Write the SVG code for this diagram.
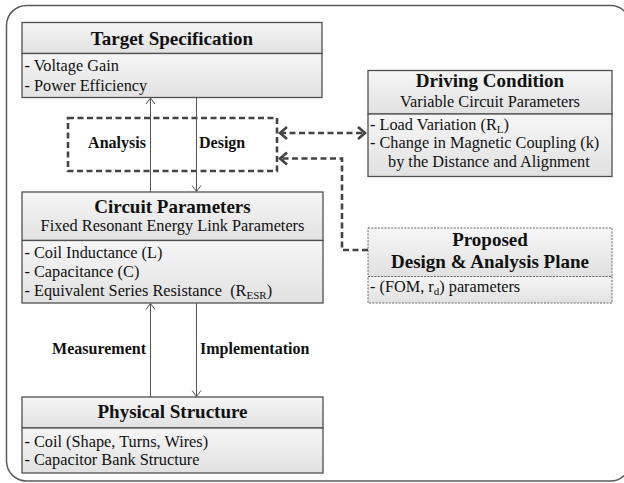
<svg xmlns="http://www.w3.org/2000/svg" width="624" height="483" viewBox="0 0 624 483">
  <defs>
    <linearGradient id="boxFill" x1="0" y1="0" x2="0" y2="1">
      <stop offset="0" stop-color="#f6f6f6"/>
      <stop offset="1" stop-color="#e1e1e1"/>
    </linearGradient>
    <marker id="thinHead" markerUnits="userSpaceOnUse" markerWidth="14" markerHeight="14" refX="0" refY="0" orient="auto" overflow="visible">
      <path d="M-6,-4.5 L0,0 L-6,4.5" fill="none" stroke="#555" stroke-width="1"/>
    </marker>
    <marker id="boldHead" markerUnits="userSpaceOnUse" markerWidth="16" markerHeight="16" refX="0" refY="0" orient="auto-start-reverse" overflow="visible">
      <path d="M-7,-6 L0,0 L-7,6" fill="none" stroke="#444" stroke-width="2.6" stroke-linejoin="miter"/>
    </marker>
  </defs>
  <style>
    .frame{fill:none;stroke:#5a5a5a;stroke-width:1.5}
    .box{fill:url(#boxFill);stroke:#505050;stroke-width:1.3}
    .dotbox{fill:url(#boxFill);stroke:#666;stroke-width:1;stroke-dasharray:2 1.3}
    text{font-family:"Liberation Serif","Times New Roman",serif;fill:#111}
    .title{font-weight:bold;font-size:19px;text-anchor:middle}
    .sub{font-size:16.3px;text-anchor:middle}
    .body{font-size:16.3px}
    .lbl{font-weight:bold;font-size:16px}
    .thin{stroke:#555;stroke-width:1;fill:none;marker-end:url(#thinHead)}
    .bold{stroke:#444;stroke-width:2.6;fill:none;stroke-dasharray:6 3.5}
  </style>

  <!-- outer frame -->
  <rect class="frame" x="6.5" y="5.5" width="624" height="475.5" rx="20" ry="20"/>

  <!-- Analysis / Design grouping box -->
  <g id="analysis-design">
    <rect class="bold" x="68" y="118" width="209" height="53"/>
    <text class="lbl" x="117" y="148" text-anchor="middle">Analysis</text>
    <text class="lbl" x="199" y="148">Design</text>
  </g>

  <g id="target-specification">
    <rect class="box" x="22" y="22.5" width="300" height="31"/>
    <rect class="box" x="22" y="53.5" width="300" height="44"/>
    <text class="title" x="172" y="44.5">Target Specification</text>
    <text class="body" x="24.5" y="71">- Voltage Gain</text>
    <text class="body" x="24.5" y="90.5">- Power Efficiency</text>
  </g>

  <g id="driving-condition">
    <rect class="box" x="368" y="70.5" width="244" height="43.5"/>
    <rect class="box" x="368" y="114" width="244" height="62.5"/>
    <text class="title" x="490" y="87">Driving Condition</text>
    <text class="sub" x="490" y="107">Variable Circuit Parameters</text>
    <text class="body" x="370" y="129.5">- Load Variation (R<tspan font-size="11" dy="3">L</tspan><tspan dy="-3">)</tspan></text>
    <text class="body" x="370" y="148">- Change in Magnetic Coupling (k)</text>
    <text class="body" x="388" y="166.5">by the Distance and Alignment</text>
  </g>

  <g id="circuit-parameters">
    <rect class="box" x="22" y="192" width="301" height="48.5"/>
    <rect class="box" x="22" y="240.5" width="301" height="62.5"/>
    <text class="title" x="172.5" y="213">Circuit Parameters</text>
    <text class="sub" x="172.5" y="231">Fixed Resonant Energy Link Parameters</text>
    <text class="body" x="24.5" y="257.5">- Coil Inductance (L)</text>
    <text class="body" x="24.5" y="276.5">- Capacitance (C)</text>
    <text class="body" x="24.5" y="296">- Equivalent Series Resistance <tspan dx="4">(R</tspan><tspan font-size="11" dy="3">ESR</tspan><tspan dy="-3">)</tspan></text>
  </g>

  <g id="proposed-plane">
    <rect class="dotbox" x="368" y="228" width="244" height="48.5"/>
    <rect class="dotbox" x="368" y="276.5" width="244" height="26.5"/>
    <text class="title" x="490" y="246">Proposed</text>
    <text class="title" x="490" y="268">Design &amp; Analysis Plane</text>
    <text class="body" x="370" y="292">- (FOM, r<tspan font-size="11" dy="3">d</tspan><tspan dy="-3">) parameters</tspan></text>
  </g>

  <g id="physical-structure">
    <rect class="box" x="22" y="397" width="301" height="31"/>
    <rect class="box" x="22" y="428" width="301" height="45"/>
    <text class="title" x="172.5" y="418">Physical Structure</text>
    <text class="body" x="24.5" y="446.5">- Coil (Shape, Turns, Wires)</text>
    <text class="body" x="24.5" y="465">- Capacitor Bank Structure</text>
  </g>

  <!-- connectors -->
  <g id="connectors">
    <path class="thin" d="M150.5,192 V98"/>
    <path class="thin" d="M196.5,97.5 V191.5"/>
    <path class="thin" d="M150.5,397 V303.5"/>
    <path class="thin" d="M196.5,303 V396.5"/>
    <path class="bold" d="M280,133 H365" marker-start="url(#boldHead)" marker-end="url(#boldHead)"/>
    <path class="bold" d="M368,250 H342 V158.5 H280" marker-end="url(#boldHead)"/>
    <text class="lbl" x="146" y="354" text-anchor="end">Measurement</text>
    <text class="lbl" x="200" y="354">Implementation</text>
  </g>
</svg>
